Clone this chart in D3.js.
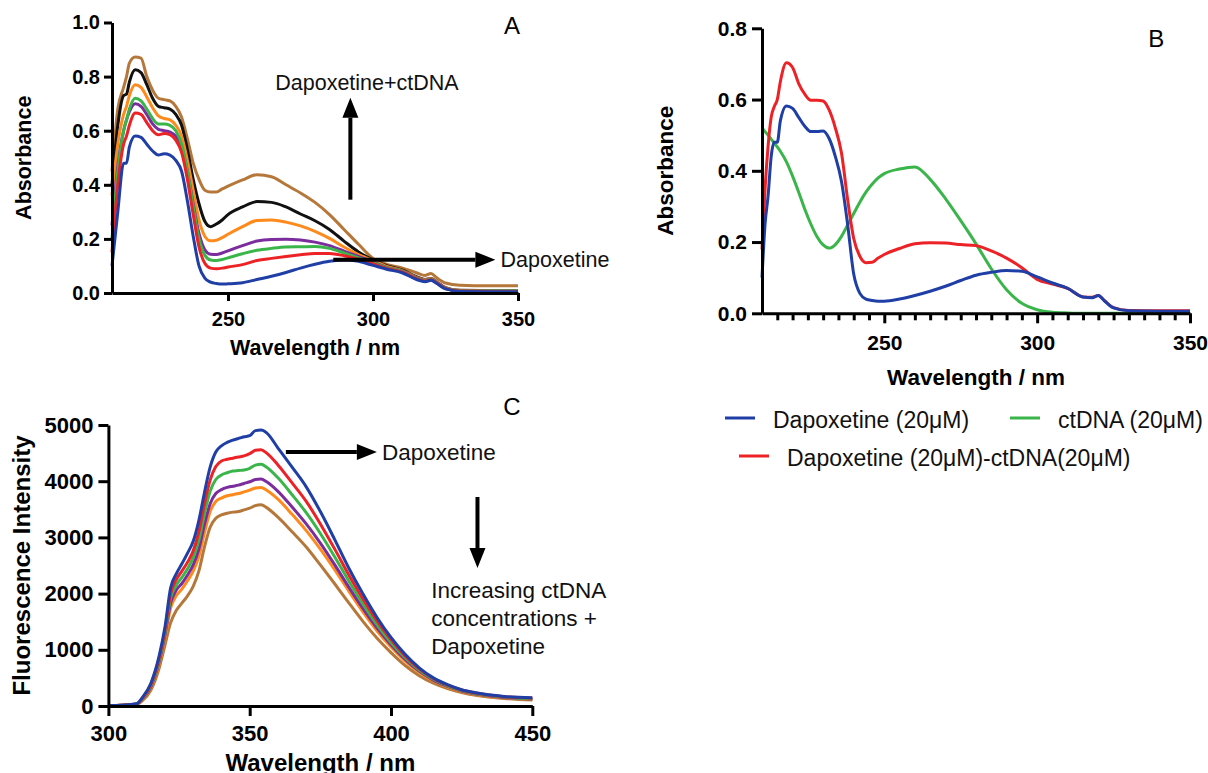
<!DOCTYPE html>
<meta charset="utf-8">

<style>
  body { margin: 0; background: #fff; }
  svg { display: block; background: #fff; font-family: "Liberation Sans", Arial, Helvetica, sans-serif; }
  .axis path, .axis line { stroke: #000; stroke-width: 3; }
  .axis text { fill: #000; font-weight: bold; font-family: "Liberation Sans", Arial, sans-serif; }
  .title { font-weight: bold; fill: #000; }
  .note { fill: #111; }
</style>

<svg class="chart"></svg>

<script src="https://cdn.jsdelivr.net/npm/d3@7"></script>
<script>

  var width  = 1208;
  var height = 773;

  // ---- panel A : UV absorbance, dapoxetine + increasing ctDNA ----
  var aWave   = [210, 212, 214, 215, 216, 218, 220, 222, 224, 226, 228, 230, 232, 234, 236, 238, 240, 242, 244, 246, 248, 250, 255, 260, 265, 270, 275, 280, 285, 290, 295, 300, 305, 310, 315, 318, 320, 322, 325, 330, 340, 350];
  var aBlue   = [0.10, 0.30, 0.48, 0.48, 0.54, 0.58, 0.575, 0.55, 0.525, 0.51, 0.515, 0.51, 0.49, 0.45, 0.34, 0.21, 0.10, 0.055, 0.04, 0.035, 0.033, 0.034, 0.038, 0.05, 0.062, 0.076, 0.092, 0.106, 0.117, 0.122, 0.117, 0.102, 0.087, 0.075, 0.05, 0.042, 0.047, 0.035, 0.015, 0.006, 0.005, 0.005];
  var aRed    = [0.15, 0.40, 0.55, 0.58, 0.62, 0.665, 0.66, 0.63, 0.60, 0.585, 0.59, 0.585, 0.565, 0.52, 0.42, 0.29, 0.17, 0.11, 0.092, 0.09, 0.092, 0.096, 0.105, 0.12, 0.128, 0.135, 0.141, 0.146, 0.146, 0.138, 0.125, 0.108, 0.09, 0.078, 0.053, 0.044, 0.049, 0.037, 0.016, 0.007, 0.006, 0.006];
  var aGreen  = [0.20, 0.45, 0.60, 0.64, 0.68, 0.72, 0.71, 0.68, 0.645, 0.625, 0.625, 0.62, 0.60, 0.55, 0.45, 0.32, 0.20, 0.14, 0.122, 0.12, 0.124, 0.13, 0.145, 0.158, 0.165, 0.17, 0.171, 0.172, 0.165, 0.148, 0.13, 0.112, 0.093, 0.08, 0.055, 0.046, 0.05, 0.038, 0.017, 0.008, 0.007, 0.007];
  var aPurple = [0.25, 0.47, 0.60, 0.64, 0.67, 0.70, 0.69, 0.66, 0.625, 0.605, 0.60, 0.595, 0.58, 0.54, 0.45, 0.33, 0.22, 0.16, 0.143, 0.142, 0.148, 0.156, 0.175, 0.192, 0.198, 0.199, 0.196, 0.188, 0.175, 0.155, 0.135, 0.115, 0.094, 0.081, 0.056, 0.047, 0.051, 0.039, 0.018, 0.008, 0.007, 0.007];
  var aOrange = [0.36, 0.55, 0.66, 0.69, 0.73, 0.77, 0.76, 0.725, 0.685, 0.655, 0.645, 0.64, 0.62, 0.58, 0.49, 0.38, 0.27, 0.21, 0.193, 0.195, 0.205, 0.217, 0.245, 0.268, 0.27, 0.262, 0.248, 0.228, 0.202, 0.17, 0.142, 0.12, 0.097, 0.083, 0.058, 0.049, 0.053, 0.04, 0.019, 0.009, 0.008, 0.008];
  var aBlack  = [0.40, 0.62, 0.73, 0.735, 0.78, 0.825, 0.815, 0.77, 0.72, 0.69, 0.685, 0.68, 0.66, 0.62, 0.53, 0.42, 0.33, 0.265, 0.245, 0.255, 0.27, 0.29, 0.318, 0.338, 0.335, 0.318, 0.292, 0.267, 0.235, 0.192, 0.152, 0.122, 0.10, 0.085, 0.06, 0.05, 0.054, 0.041, 0.02, 0.01, 0.009, 0.009];
  var aBrown  = [0.45, 0.68, 0.76, 0.80, 0.85, 0.872, 0.868, 0.80, 0.75, 0.72, 0.715, 0.71, 0.69, 0.65, 0.57, 0.48, 0.42, 0.38, 0.373, 0.373, 0.385, 0.395, 0.418, 0.437, 0.43, 0.40, 0.37, 0.335, 0.29, 0.235, 0.18, 0.128, 0.105, 0.093, 0.075, 0.065, 0.072, 0.056, 0.037, 0.029, 0.027, 0.027];
  var aYTicks = [0, 0.2, 0.4, 0.6, 0.8, 1.0];
  var aXTicks = [250, 300, 350];

  // ---- panel B : dapoxetine, ctDNA and their mixture ----
  var bWave   = [210, 211, 212, 213, 214, 215, 216, 218, 220, 222, 224, 226, 228, 230, 232, 234, 236, 238, 240, 242, 244, 246, 248, 250, 255, 260, 265, 270, 275, 280, 285, 290, 295, 300, 305, 310, 315, 318, 320, 322, 325, 330, 340, 350];
  var bDap    = [0.10, 0.25, 0.33, 0.44, 0.48, 0.48, 0.54, 0.582, 0.575, 0.55, 0.525, 0.51, 0.51, 0.512, 0.49, 0.44, 0.37, 0.25, 0.11, 0.056, 0.04, 0.036, 0.034, 0.034, 0.04, 0.05, 0.062, 0.076, 0.092, 0.107, 0.115, 0.12, 0.118, 0.102, 0.085, 0.07, 0.046, 0.044, 0.05, 0.035, 0.015, 0.007, 0.006, 0.006];
  var bDna    = [0.52, 0.51, 0.50, 0.489, 0.478, 0.467, 0.455, 0.425, 0.385, 0.34, 0.292, 0.25, 0.215, 0.192, 0.183, 0.193, 0.216, 0.248, 0.28, 0.312, 0.34, 0.362, 0.38, 0.392, 0.405, 0.411, 0.376, 0.322, 0.26, 0.195, 0.125, 0.066, 0.028, 0.01, 0.003, 0.001, 0, 0, 0, 0, 0, 0, 0, 0];
  var bMix    = [0.18, 0.35, 0.47, 0.55, 0.58, 0.60, 0.65, 0.703, 0.69, 0.645, 0.615, 0.598, 0.598, 0.596, 0.57, 0.52, 0.45, 0.32, 0.21, 0.16, 0.142, 0.143, 0.155, 0.165, 0.182, 0.195, 0.198, 0.197, 0.193, 0.19, 0.175, 0.155, 0.128, 0.095, 0.082, 0.07, 0.046, 0.045, 0.05, 0.036, 0.016, 0.008, 0.007, 0.007];
  var bYTicks = [0, 0.2, 0.4, 0.6, 0.8];
  var bXTicks = [250, 300, 350];
  var bLegend = ["Dapoxetine (20\u03BCM)", "ctDNA (20\u03BCM)", "Dapoxetine (20\u03BCM)-ctDNA(20\u03BCM)"];

  // ---- panel C : fluorescence quenching ----
  var cWave   = [300, 305, 310, 312, 315, 318, 320, 322, 324, 326, 328, 330, 332, 334, 336, 338, 340, 342, 344, 346, 348, 350, 352, 354, 356, 360, 365, 370, 375, 380, 385, 390, 395, 400, 405, 410, 415, 420, 425, 430, 440, 450];
  var cBlue   = [10, 15, 40, 150, 400, 900, 1400, 2100, 2350, 2530, 2720, 2930, 3300, 3800, 4250, 4520, 4630, 4690, 4730, 4760, 4790, 4810, 4900, 4910, 4860, 4590, 4250, 3900, 3460, 2970, 2460, 2000, 1580, 1220, 920, 680, 500, 380, 290, 235, 170, 145];
  var cRed    = [10, 15, 38, 140, 380, 860, 1340, 2000, 2250, 2400, 2560, 2760, 3100, 3600, 4020, 4260, 4360, 4390, 4410, 4430, 4450, 4490, 4550, 4560, 4500, 4290, 3970, 3640, 3240, 2800, 2340, 1910, 1520, 1180, 890, 660, 490, 370, 285, 230, 165, 140];
  var cGreen  = [10, 15, 35, 130, 360, 830, 1300, 1920, 2150, 2290, 2440, 2640, 2950, 3420, 3820, 4030, 4110, 4150, 4180, 4190, 4200, 4230, 4285, 4300, 4250, 4060, 3760, 3440, 3070, 2660, 2230, 1820, 1450, 1130, 860, 640, 475, 360, 275, 220, 158, 130];
  var cPurple = [10, 15, 34, 120, 340, 800, 1260, 1830, 2060, 2180, 2330, 2510, 2790, 3230, 3600, 3780, 3850, 3890, 3910, 3930, 3960, 3990, 4030, 4040, 3990, 3820, 3540, 3240, 2900, 2520, 2120, 1740, 1390, 1090, 830, 620, 460, 350, 268, 212, 152, 125];
  var cOrange = [10, 15, 32, 110, 320, 760, 1200, 1740, 1960, 2080, 2230, 2400, 2660, 3080, 3460, 3640, 3700, 3740, 3760, 3780, 3810, 3840, 3880, 3890, 3840, 3680, 3410, 3120, 2790, 2430, 2050, 1680, 1340, 1050, 800, 600, 445, 338, 258, 205, 147, 120];
  var cBrown  = [10, 15, 30, 95, 280, 680, 1080, 1480, 1700, 1830, 1960, 2130, 2400, 2830, 3180, 3340, 3400, 3430, 3450, 3460, 3490, 3520, 3565, 3580, 3530, 3360, 3100, 2830, 2510, 2180, 1840, 1510, 1210, 950, 720, 540, 405, 310, 240, 190, 135, 105];
  var cYTicks = [0, 1000, 2000, 3000, 4000, 5000];
  var cXTicks = [300, 350, 400, 450];

  var colors = {
    blue   : "#1f3fa6",
    red    : "#ec2227",
    green  : "#3ab54a",
    purple : "#7b2d9e",
    orange : "#ff8a1c",
    black  : "#111111",
    brown  : "#b5783a"
  };

  var chart = d3.select(".chart")
      .attr("width", width)
      .attr("height", height);

  chart.append("rect")
      .attr("width", width)
      .attr("height", height)
      .attr("fill", "#fff");

  var line = function(x, y) {
    return d3.line()
      .x(function(d) { return x(d[0]); })
      .y(function(d) { return y(d[1]); })
      .curve(d3.curveMonotoneX);
  };

  function drawPanel(p) {
    var x = d3.scaleLinear().domain(p.xDomain).range(p.xRange);
    var y = d3.scaleLinear().domain(p.yDomain).range(p.yRange);
    var g = chart.append("g");

    // curves first, axes on top
    var path = line(x, y);
    g.append("g")
      .selectAll("path")
      .data(p.series)
      .enter().append("path")
          .attr("fill", "none")
          .attr("stroke", function(s) { return s.color; })
          .attr("stroke-width", 3)
          .attr("stroke-linejoin", "round")
          .attr("d", function(s) { return path(d3.zip(p.wave, s.values)); });

    if (p.minor) {
      g.append("g")
        .attr("class", "axis")
        .attr("transform", "translate(0," + p.yRange[0] + ")")
        .call(d3.axisBottom(x).tickValues(p.minor).tickSize(p.tick - 3).tickSizeOuter(0).tickFormat(""))
        .select(".domain").remove();
    }

    g.append("g")
      .attr("class", "axis")
      .attr("transform", "translate(0," + p.yRange[0] + ")")
      .call(d3.axisBottom(x).tickValues(p.xTicks).tickSize(p.tick).tickSizeOuter(0).tickPadding(p.xPad).tickFormat(d3.format("d")))
      .selectAll("text").style("font-size", p.font + "px");

    g.append("g")
      .attr("class", "axis")
      .attr("transform", "translate(" + p.xRange[0] + ",0)")
      .call(d3.axisLeft(y).tickValues(p.yTicks).tickSize(p.tick).tickSizeOuter(0).tickPadding(p.yPad).tickFormat(d3.format(p.yFormat)))
      .selectAll("text").style("font-size", p.font + "px");

    g.append("text")
      .attr("class", "title")
      .attr("x", (p.xRange[0] + p.xRange[1]) / 2)
      .attr("y", p.xTitleY)
      .attr("dy", "0.35em")
      .attr("text-anchor", "middle")
      .style("font-size", p.titleFont + "px")
      .text("Wavelength / nm");

    g.append("text")
      .attr("class", "title")
      .attr("transform", "translate(" + p.yTitleX + "," + (p.yRange[0] + p.yRange[1]) / 2 + ") rotate(-90)")
      .attr("dy", "0.35em")
      .attr("text-anchor", "middle")
      .style("font-size", p.titleFont + "px")
      .text(p.yTitle);

    g.append("text")
      .attr("x", x(p.letterAt[0]))
      .attr("y", y(p.letterAt[1]))
      .attr("dy", "0.35em")
      .attr("text-anchor", "middle")
      .style("font-size", "24px")
      .text(p.letter);

    return { g: g, x: x, y: y };
  }

  function arrow(g, x1, y1, x2, y2) {
    var dx = x2 - x1, dy = y2 - y1;
    var len = Math.sqrt(dx * dx + dy * dy);
    var ux = dx / len, uy = dy / len;
    var head = 20, half = 8;
    var bx = x2 - ux * head, by = y2 - uy * head;
    g.append("line")
      .attr("x1", x1).attr("y1", y1)
      .attr("x2", bx).attr("y2", by)
      .attr("stroke", "#000")
      .attr("stroke-width", 4);
    g.append("path")
      .attr("d", "M" + x2 + "," + y2 +
                 "L" + (bx - uy * half) + "," + (by + ux * half) +
                 "L" + (bx + uy * half) + "," + (by - ux * half) + "Z")
      .attr("fill", "#000");
  }

  function note(g, x, y, text, size) {
    g.append("text")
      .attr("class", "note")
      .attr("x", x)
      .attr("y", y)
      .attr("dy", "0.35em")
      .style("font-size", size + "px")
      .text(text);
  }

  // ---- A ----
  var A = drawPanel({
    wave: aWave,
    series: [
      { values: aBrown,  color: colors.brown },
      { values: aBlack,  color: colors.black },
      { values: aOrange, color: colors.orange },
      { values: aPurple, color: colors.purple },
      { values: aGreen,  color: colors.green },
      { values: aRed,    color: colors.red },
      { values: aBlue,   color: colors.blue }
    ],
    xDomain: [210, 350], xRange: [112, 518],
    yDomain: [0, 1],     yRange: [293, 22.5],
    xTicks: aXTicks, yTicks: aYTicks, yFormat: ".1f",
    tick: 8, font: 20, xPad: 11, yPad: 4,
    titleFont: 21.5, xTitleY: 347, yTitleX: 23, yTitle: "Absorbance",
    letter: "A", letterAt: [347.9, 0.99]
  });

  arrow(A.g, A.x(292.2), A.y(0.345), A.x(292.2), A.y(0.722));
  arrow(A.g, A.x(286.3), A.y(0.123), A.x(342.2), A.y(0.123));
  note(A.g, A.x(266.3), A.y(0.777), "Dapoxetine+ctDNA", 21.5);
  note(A.g, A.x(344), A.y(0.123), "Dapoxetine", 21.5);

  // ---- B ----
  var bMinor = d3.range(215, 350, 5).filter(function(v) { return v % 50 !== 0; });

  var B = drawPanel({
    wave: bWave,
    series: [
      { values: bDna, color: colors.green },
      { values: bMix, color: colors.red },
      { values: bDap, color: colors.blue }
    ],
    xDomain: [210, 350], xRange: [762, 1190],
    yDomain: [0, 0.8],   yRange: [313.3, 28.3],
    xTicks: bXTicks, yTicks: bYTicks, yFormat: ".1f", minor: bMinor,
    tick: 10, font: 21, xPad: 12, yPad: 5,
    titleFont: 22.5, xTitleY: 377, yTitleX: 665, yTitle: "Absorbance",
    letter: "B", letterAt: [339, 0.77]
  });

  // legend under B
  var legend = chart.append("g");
  var legendItems = [
    { label: bLegend[0], color: colors.blue,  x: 725,  y: 418 },
    { label: bLegend[1], color: colors.green, x: 1010, y: 418 },
    { label: bLegend[2], color: colors.red,   x: 739,  y: 456 }
  ];
  legendItems.forEach(function(item) {
    legend.append("line")
      .attr("x1", item.x).attr("x2", item.x + 30)
      .attr("y1", item.y).attr("y2", item.y)
      .attr("stroke", item.color)
      .attr("stroke-width", 3);
    note(legend, item.x + 48, item.y + 2, item.label, 23);
  });

  // ---- C ----
  var C = drawPanel({
    wave: cWave,
    series: [
      { values: cBrown,  color: colors.brown },
      { values: cOrange, color: colors.orange },
      { values: cPurple, color: colors.purple },
      { values: cGreen,  color: colors.green },
      { values: cRed,    color: colors.red },
      { values: cBlue,   color: colors.blue }
    ],
    xDomain: [300, 450], xRange: [108.4, 532.3],
    yDomain: [0, 5000],  yRange: [706, 425],
    xTicks: cXTicks, yTicks: cYTicks, yFormat: "d",
    tick: 10, font: 22, xPad: 9, yPad: 5,
    titleFont: 24, xTitleY: 763, yTitleX: 22, yTitle: "Fluorescence Intensity",
    letter: "C", letterAt: [442.8, 5320]
  });

  arrow(C.g, C.x(362.8), C.y(4520), C.x(395), C.y(4520));
  note(C.g, C.x(396.8), C.y(4520), "Dapoxetine", 22.5);
  arrow(C.g, C.x(430.6), C.y(3719), C.x(430.6), C.y(2456));
  note(C.g, C.x(414.2), C.y(2064), "Increasing ctDNA", 22.5);
  note(C.g, C.x(414.2), C.y(1566), "concentrations +", 22.5);
  note(C.g, C.x(414.2), C.y(1068), "Dapoxetine", 22.5);

</script>
